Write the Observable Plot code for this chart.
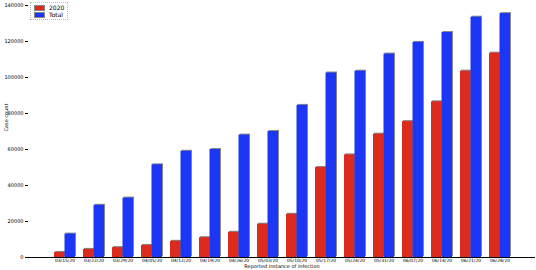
<!DOCTYPE html>
<html>
<head>
<meta charset="utf-8">
<script src="https://cdn.jsdelivr.net/npm/d3@7"></script>
<script src="https://cdn.jsdelivr.net/npm/@observablehq/plot@0.6"></script>
<style>
  html, body { margin: 0; padding: 0; background: #fff; }
  #wrap { position: relative; width: 536px; height: 270px; overflow: hidden; font-family: "DejaVu Sans", sans-serif; }
  #legend { position: absolute; left: 30px; top: 2px; border: 1px dotted #bbb; padding: 1px 3px; font-size: 6px; line-height: 7px; background: #fff; }
  #legend .row { display: flex; align-items: center; gap: 4px; }
  #legend .sw { width: 9px; height: 4px; border: 1px solid #888; }
</style>
</head>
<body>
<div id="wrap"></div>
<script>
const categories = ["03/15/20","03/22/20","03/29/20","04/05/20","04/12/20","04/19/20","04/26/20","05/03/20","05/10/20","05/17/20","05/24/20","05/31/20","06/07/20","06/14/20","06/21/20","06/28/20"];
const series2020 = [2800, 4500, 5500, 6700, 9000, 11000, 14000, 18500, 24000, 50000, 57000, 68500, 75500, 86500, 103500, 113500];
const seriesTotal = [13000, 29000, 33000, 51500, 59000, 60000, 68000, 70000, 84500, 102500, 103500, 113000, 119500, 125000, 133500, 135500];
const yTicks = [0, 20000, 40000, 60000, 80000, 100000, 120000, 140000];
const seriesNames = ["2020", "Total"];
const colors = ["#dc2a1c", "#1b36f4"];
const xTitle = "Reported instance of infection";
const yTitle = "Case count";

const rows2020 = categories.map((c, i) => ({cat: c, v: series2020[i]}));
const rowsTotal = categories.map((c, i) => ({cat: c, v: seriesTotal[i]}));

const half = 10.5;
const chart = Plot.plot({
  width: 536,
  height: 270,
  marginLeft: 28,
  marginRight: 1,
  marginTop: 5,
  marginBottom: 13,
  style: {fontFamily: "DejaVu Sans, sans-serif", fontSize: "5px", background: "#fff", overflow: "visible"},
  x: {domain: categories, paddingInner: 0.284, paddingOuter: 0.78, label: null},
  y: {domain: [0, 140000], label: null},
  marks: [
    Plot.ruleX([0], {frameAnchor: "left", stroke: "#ddd"}),
    Plot.barY(rows2020, {x: "cat", y: "v", insetRight: half, fill: "#888", dx: 1, dy: -1}),
    Plot.barY(rowsTotal, {x: "cat", y: "v", insetLeft: half, fill: "#888", dx: 1, dy: -1}),
    Plot.barY(rows2020, {x: "cat", y: "v", insetRight: half, fill: colors[0]}),
    Plot.barY(rowsTotal, {x: "cat", y: "v", insetLeft: half, fill: colors[1]}),
    Plot.ruleY([0], {stroke: "#000", strokeWidth: 1}),
    Plot.axisX({label: null, tickSize: 0, tickPadding: 1, fontSize: 4.5}),
    Plot.axisY({ticks: yTicks, label: null, tickSize: 3, tickPadding: 2, tickFormat: d => String(d), fontSize: 5}),
    Plot.text([xTitle], {frameAnchor: "bottom", dy: 10, fontSize: 5, fill: "#000"}),
    Plot.text([yTitle], {frameAnchor: "left", dx: -22, rotate: -90, fontSize: 5, fill: "#000"})
  ]
});
const wrap = document.getElementById("wrap");
wrap.appendChild(chart);
const legend = document.createElement("div");
legend.id = "legend";
seriesNames.forEach((n, i) => {
  const r = document.createElement("div");
  r.className = "row";
  const sw = document.createElement("span");
  sw.className = "sw";
  sw.style.background = colors[i];
  const t = document.createElement("span");
  t.textContent = n;
  r.appendChild(sw); r.appendChild(t);
  legend.appendChild(r);
});
wrap.appendChild(legend);
</script>
</body>
</html>
